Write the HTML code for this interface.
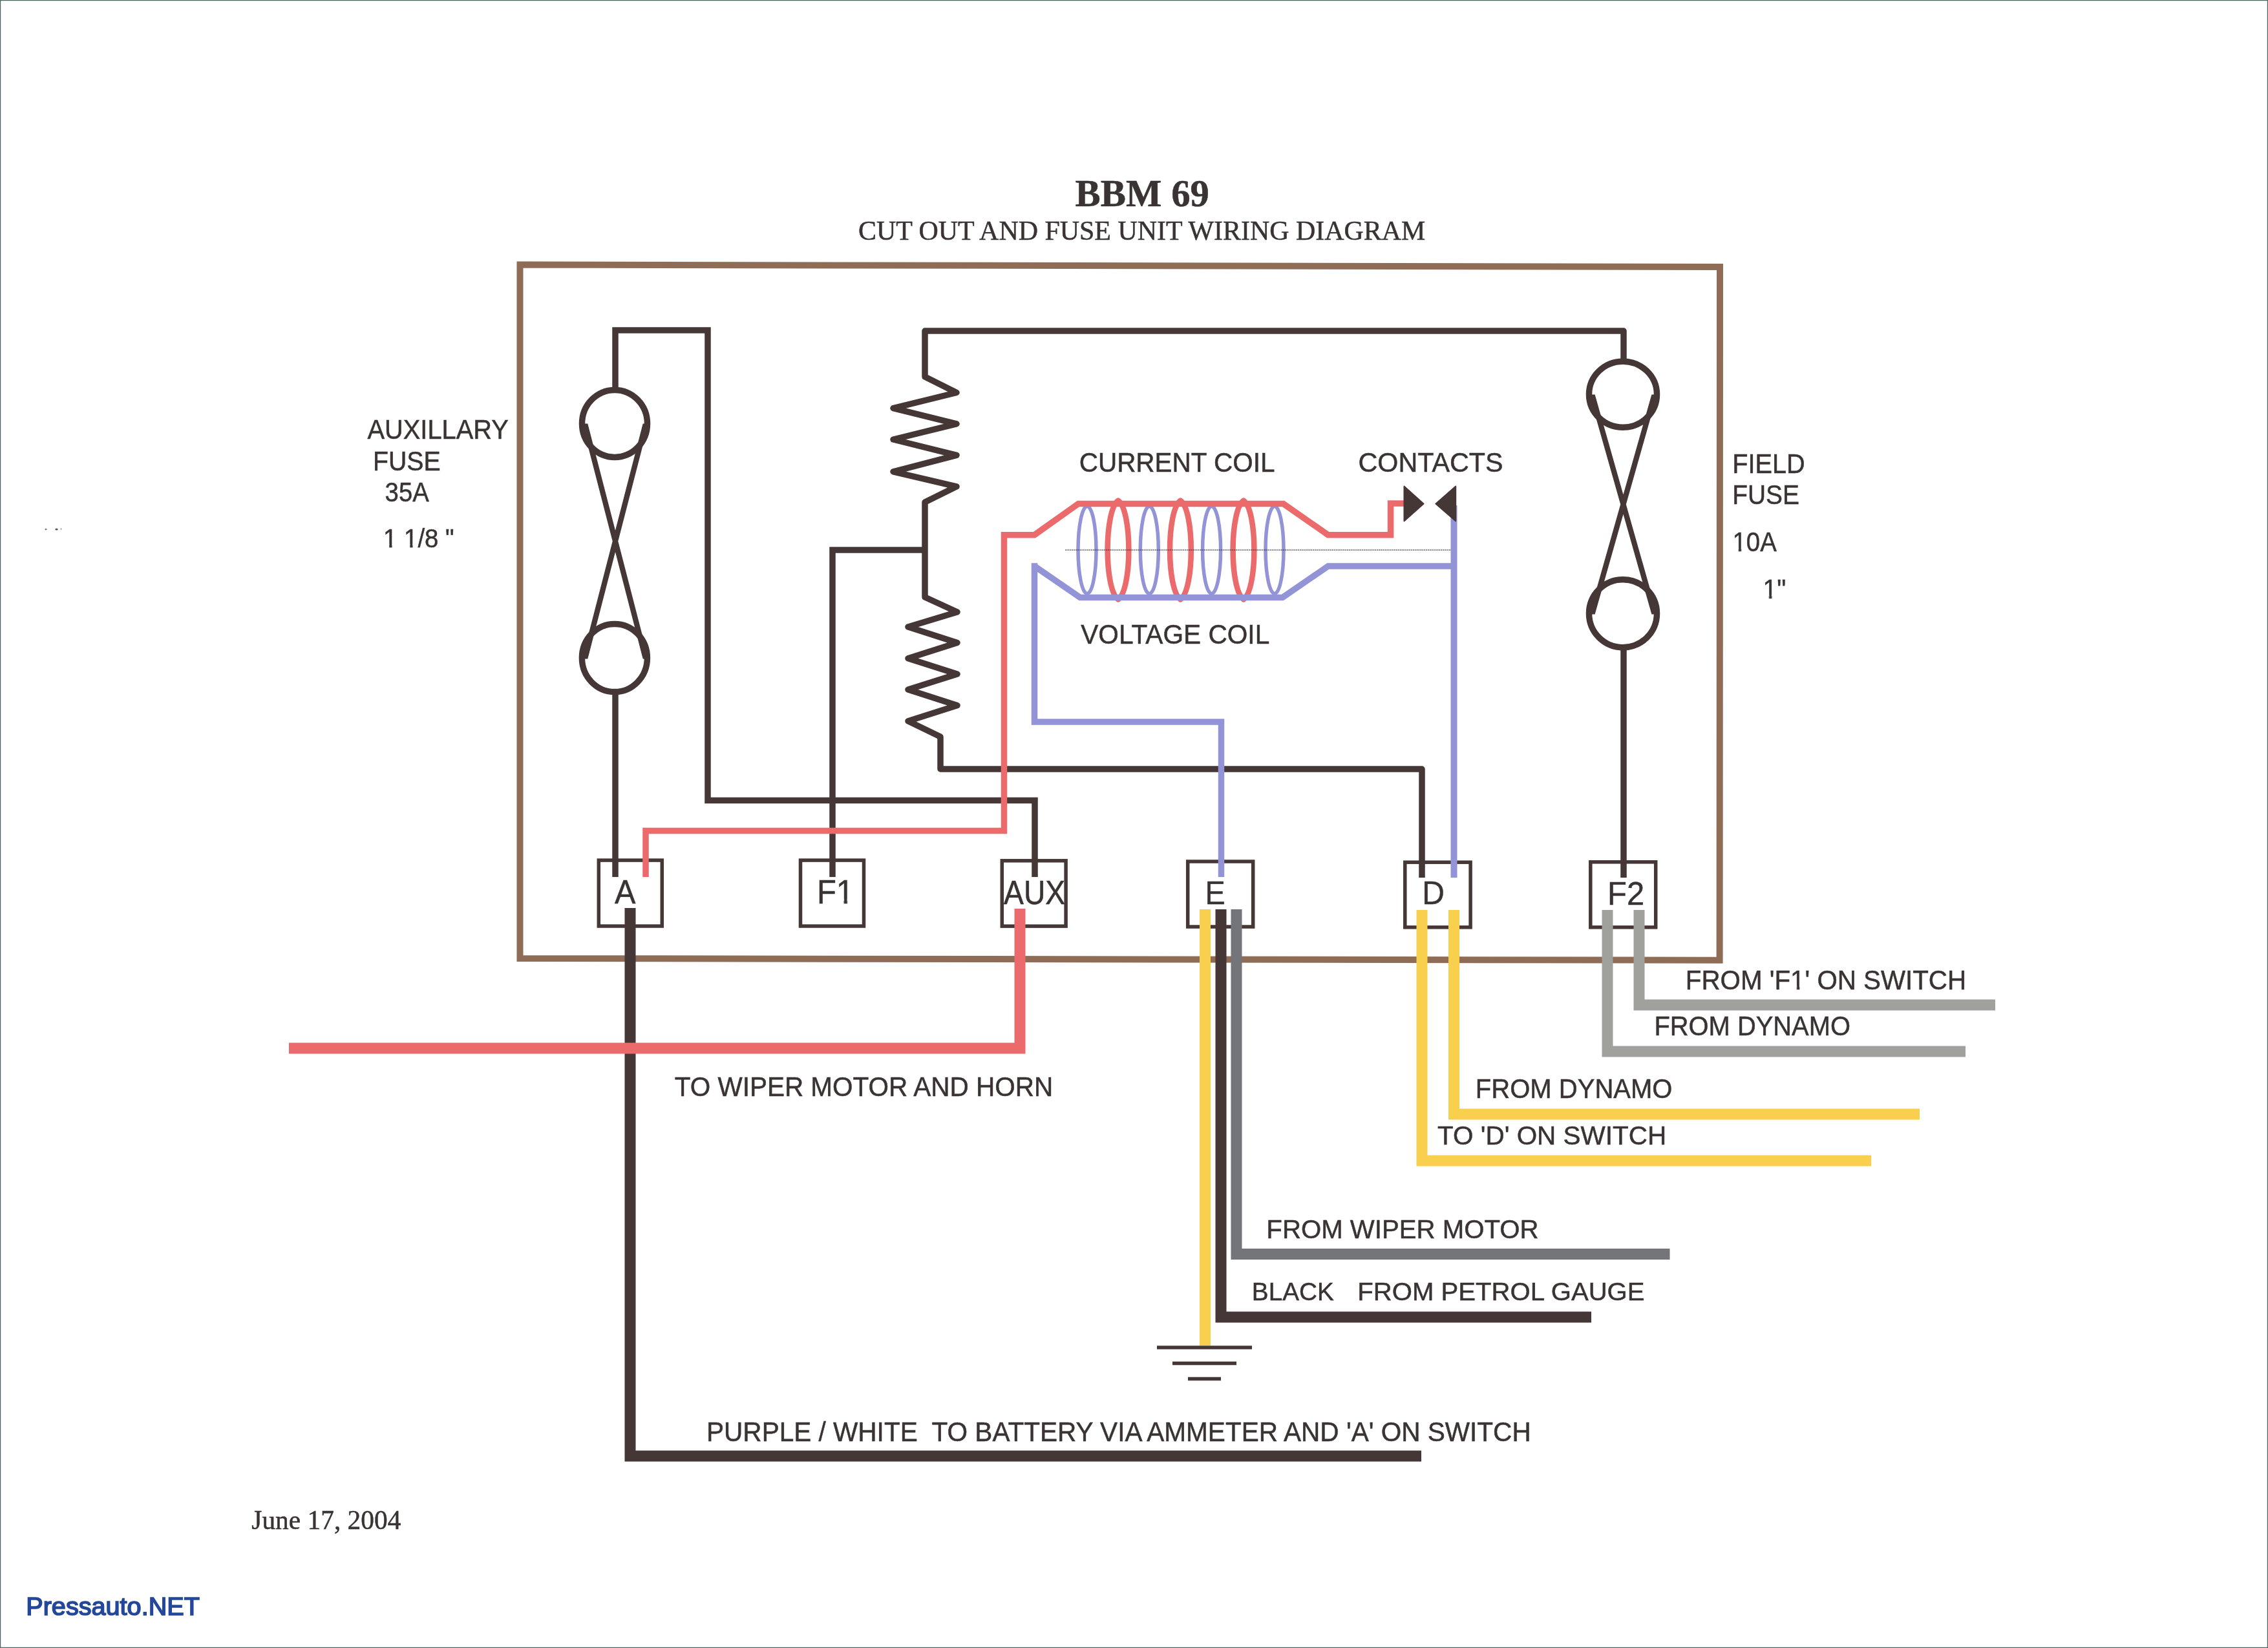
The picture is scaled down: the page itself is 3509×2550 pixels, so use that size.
<!DOCTYPE html>
<html><head><meta charset="utf-8"><title>BBM 69 Cut Out and Fuse Unit Wiring Diagram</title>
<style>html,body{margin:0;padding:0;background:#fff;overflow:hidden}svg{display:block}text{will-change:transform}</style></head>
<body><svg width="3509" height="2550" viewBox="0 0 3509 2550">
<rect width="3509" height="2550" fill="#ffffff"/>
<rect x="0" y="0" width="3509" height="2550" fill="none" stroke="#4a6363" stroke-width="2.4"/>
<ellipse cx="71" cy="819" rx="1.6" ry="1.2" fill="#777"/><ellipse cx="87.5" cy="819" rx="2.2" ry="1.5" fill="#555"/><ellipse cx="94.5" cy="818.5" rx="0.8" ry="1.2" fill="#888"/>
<path d="M804.5,409.5 L2661,413 L2660.6,1485.7 L804.5,1483 Z" fill="none" stroke="#8e6c55" stroke-width="10"/>
<path d="M952,604 V511 H1095 V1238.5 H1601 V1357" fill="none" stroke="#463737" stroke-width="9.5" stroke-linejoin="miter"/>
<path d="M952,1072 V1357" fill="none" stroke="#463737" stroke-width="9.5" stroke-linejoin="miter"/>
<path d="M2512,559 V512 H1431 V583 L1480,607.5 L1382,631.7 L1480,655.9 L1382,680 L1480,704.3 L1382,729.8 L1480,752.8 L1431,777 V924 L1481,947 L1405,970 L1481,994.4 L1405,1018.7 L1481,1043 L1405,1067 L1481,1091.5 L1405,1115.8 L1455,1140 V1190 H2200 V1358" fill="none" stroke="#463737" stroke-width="9.5" stroke-linejoin="round"/>
<path d="M1288,1357 V851 H1431" fill="none" stroke="#463737" stroke-width="9.5" stroke-linejoin="miter"/>
<path d="M2512,1002 V1358" fill="none" stroke="#463737" stroke-width="9.5" stroke-linejoin="miter"/>
<ellipse cx="951" cy="655.4" rx="50.5" ry="52" fill="none" stroke="#463737" stroke-width="9.5"/>
<ellipse cx="950.9" cy="1018" rx="50.5" ry="52.6" fill="none" stroke="#463737" stroke-width="9.5"/>
<path d="M900.70,655.4 L909.30,655.4 L1003.30,1019.5 L994.70,1019.5 Z M994.70,655.4 L1003.30,655.4 L909.30,1019.5 L900.70,1019.5 Z" fill="#463737" fill-rule="nonzero"/>
<ellipse cx="2511" cy="610.2" rx="52.5" ry="51" fill="none" stroke="#463737" stroke-width="9.5"/>
<ellipse cx="2511" cy="949.2" rx="52.5" ry="52.5" fill="none" stroke="#463737" stroke-width="9.5"/>
<path d="M2459.00,610.4 L2467.60,610.4 L2564.00,950.5 L2555.40,950.5 Z M2555.40,610.4 L2564.00,610.4 L2467.60,950.5 L2459.00,950.5 Z" fill="#463737" fill-rule="nonzero"/>
<rect x="926.3" y="1331.1" width="98.0" height="101.90000000000009" fill="none" stroke="#463737" stroke-width="5.5"/>
<rect x="1238.5" y="1331.1" width="98.0" height="101.90000000000009" fill="none" stroke="#463737" stroke-width="5.5"/>
<rect x="1550.3" y="1331.8" width="98.79999999999995" height="101.29999999999995" fill="none" stroke="#463737" stroke-width="5.5"/>
<rect x="1837.7" y="1333" width="101.0" height="101" fill="none" stroke="#463737" stroke-width="5.5"/>
<rect x="2173.8" y="1334.2" width="101.29999999999973" height="100.59999999999991" fill="none" stroke="#463737" stroke-width="5.5"/>
<rect x="2460.8" y="1333.8" width="100.89999999999964" height="101.0" fill="none" stroke="#463737" stroke-width="5.5"/>
<ellipse cx="1682" cy="851" rx="14" ry="67.5" fill="none" stroke="#9393d7" stroke-width="5.5"/>
<ellipse cx="1778.3" cy="851" rx="14" ry="67.5" fill="none" stroke="#9393d7" stroke-width="5.5"/>
<ellipse cx="1874.6" cy="851" rx="14" ry="67.5" fill="none" stroke="#9393d7" stroke-width="5.5"/>
<ellipse cx="1972" cy="851" rx="14" ry="67.5" fill="none" stroke="#9393d7" stroke-width="5.5"/>
<path d="M1730,774.5 C1751.87,789.80 1751.87,912.20 1730,927.5 C1708.13,912.20 1708.13,789.80 1730,774.5 Z" fill="none" stroke="#eb6a6b" stroke-width="8.5" stroke-linejoin="round"/>
<path d="M1826.4,774.5 C1848.27,789.80 1848.27,912.20 1826.4,927.5 C1804.53,912.20 1804.53,789.80 1826.4,774.5 Z" fill="none" stroke="#eb6a6b" stroke-width="8.5" stroke-linejoin="round"/>
<path d="M1924,774.5 C1945.87,789.80 1945.87,912.20 1924,927.5 C1902.13,912.20 1902.13,789.80 1924,774.5 Z" fill="none" stroke="#eb6a6b" stroke-width="8.5" stroke-linejoin="round"/>
<line x1="1648" y1="851" x2="2245" y2="851" stroke="#3c3c4a" stroke-width="1.3" stroke-opacity="0.75" stroke-dasharray="2.5,0.8"/>
<path d="M999,1357 V1285.5 H1553.5 V827.7 H1600.5 L1668.4,779.5 H1985.7 L2054.8,827.7 H2151.6 V779 H2178" fill="none" stroke="#eb6a6b" stroke-width="9.5" stroke-linejoin="miter" stroke-miterlimit="2"/>
<path d="M1889.5,1357 V1117 H1600.5 V871.25 M1600.5,876 L1671,924.5 H1984.4 L2054.8,876 H2249.5" fill="none" stroke="#9393d7" stroke-width="9.5" stroke-linejoin="miter" stroke-miterlimit="2"/>
<path d="M2249.5,782 V1358" fill="none" stroke="#9393d7" stroke-width="10"/>
<path d="M2172.5,752.6 L2202.5,779.4 L2172.5,806.2 Z" fill="#463737" stroke="#463737" stroke-width="2" stroke-linejoin="round"/>
<path d="M2252.2,752.6 L2221.4,779.4 L2252.2,806.2 Z" fill="#463737" stroke="#463737" stroke-width="2" stroke-linejoin="round"/>
<path d="M975,1405 V2253 H2199" fill="none" stroke="#463737" stroke-width="17"/>
<path d="M1578,1406 V1622 H447" fill="none" stroke="#eb6a6b" stroke-width="17"/>
<path d="M1864.5,1407 V2082" fill="none" stroke="#f8d04e" stroke-width="17"/>
<path d="M1889,1407 V2038 H2462" fill="none" stroke="#463737" stroke-width="17"/>
<path d="M1913,1407 V1940.5 H2583.5" fill="none" stroke="#74747b" stroke-width="17"/>
<path d="M2200,1408 V1796 H2895" fill="none" stroke="#f8d04e" stroke-width="17"/>
<path d="M2249.5,1408 V1724 H2970" fill="none" stroke="#f8d04e" stroke-width="17"/>
<path d="M2487,1408 V1627 H3041" fill="none" stroke="#a0a09c" stroke-width="17"/>
<path d="M2536,1408 V1555 H3087" fill="none" stroke="#a0a09c" stroke-width="17"/>
<path d="M1790,2085 H1937 M1814,2109.5 H1913 M1838,2133.5 H1889" stroke="#463737" stroke-width="5.5" fill="none"/>
<text transform="translate(1663.62,319.20) scale(0.9794,0.9810)" x="0" y="0" font-family='"Liberation Serif", serif' font-weight="bold" font-size="60" fill="#3a3333" stroke="#3a3333" stroke-width="0.5" xml:space="preserve">BBM 69</text>
<text transform="translate(1327.95,371.00) scale(1.0486,1.0397)" x="0" y="0" font-family='"Liberation Serif", serif' font-weight="normal" font-size="40" fill="#3a3333" stroke="#3a3333" stroke-width="0.5" xml:space="preserve">CUT OUT AND FUSE UNIT WIRING DIAGRAM</text>
<text transform="translate(568.40,679.00) scale(0.9719,1.0190)" x="0" y="0" font-family='"Liberation Sans", sans-serif' font-weight="normal" font-size="41" fill="#3a3333" stroke="#3a3333" stroke-width="0.5" xml:space="preserve">AUXILLARY</text>
<text transform="translate(576.93,727.50) scale(0.9581,1.0507)" x="0" y="0" font-family='"Liberation Sans", sans-serif' font-weight="normal" font-size="41" fill="#3a3333" stroke="#3a3333" stroke-width="0.5" xml:space="preserve">FUSE</text>
<text transform="translate(595.57,775.60) scale(0.9347,1.0331)" x="0" y="0" font-family='"Liberation Sans", sans-serif' font-weight="normal" font-size="41" fill="#3a3333" stroke="#3a3333" stroke-width="0.5" xml:space="preserve">35A</text>
<text transform="translate(593.05,847.40) scale(0.9366,1.0050)" x="0" y="0" font-family='"Liberation Sans", sans-serif' font-weight="normal" font-size="41" fill="#3a3333" stroke="#3a3333" stroke-width="0.5" xml:space="preserve">1 1/8 "</text>
<g transform="translate(593.05,847.40) scale(0.9366,1.0050)" fill="#ffffff"><rect x="-0.82" y="-5.33" width="10.66" height="9.84"/><rect x="14.39" y="-5.33" width="8.16" height="9.84"/><rect x="33.37" y="-5.33" width="10.66" height="9.84"/><rect x="48.58" y="-5.33" width="8.16" height="9.84"/></g>
<text transform="translate(1669.73,730.20) scale(0.9868,1.0261)" x="0" y="0" font-family='"Liberation Sans", sans-serif' font-weight="normal" font-size="41" fill="#3a3333" stroke="#3a3333" stroke-width="0.5" xml:space="preserve">CURRENT COIL</text>
<text transform="translate(2101.49,730.20) scale(1.0073,1.0155)" x="0" y="0" font-family='"Liberation Sans", sans-serif' font-weight="normal" font-size="41" fill="#3a3333" stroke="#3a3333" stroke-width="0.5" xml:space="preserve">CONTACTS</text>
<text transform="translate(1672.20,995.90) scale(0.9915,1.0401)" x="0" y="0" font-family='"Liberation Sans", sans-serif' font-weight="normal" font-size="41" fill="#3a3333" stroke="#3a3333" stroke-width="0.5" xml:space="preserve">VOLTAGE COIL</text>
<text transform="translate(2680.20,731.90) scale(0.9676,1.0190)" x="0" y="0" font-family='"Liberation Sans", sans-serif' font-weight="normal" font-size="41" fill="#3a3333" stroke="#3a3333" stroke-width="0.5" xml:space="preserve">FIELD</text>
<text transform="translate(2680.26,780.40) scale(0.9476,1.0366)" x="0" y="0" font-family='"Liberation Sans", sans-serif' font-weight="normal" font-size="41" fill="#3a3333" stroke="#3a3333" stroke-width="0.5" xml:space="preserve">FUSE</text>
<text transform="translate(2680.56,853.30) scale(0.9348,1.0331)" x="0" y="0" font-family='"Liberation Sans", sans-serif' font-weight="normal" font-size="41" fill="#3a3333" stroke="#3a3333" stroke-width="0.5" xml:space="preserve">10A</text>
<g transform="translate(2680.56,853.30) scale(0.9348,1.0331)" fill="#ffffff"><rect x="-0.82" y="-5.33" width="10.66" height="9.84"/><rect x="14.39" y="-5.33" width="8.16" height="9.84"/></g>
<text transform="translate(2727.46,926.10) scale(0.9594,1.0190)" x="0" y="0" font-family='"Liberation Sans", sans-serif' font-weight="normal" font-size="41" fill="#3a3333" stroke="#3a3333" stroke-width="0.5" xml:space="preserve">1"</text>
<g transform="translate(2727.46,926.10) scale(0.9594,1.0190)" fill="#ffffff"><rect x="-0.82" y="-5.33" width="10.66" height="9.84"/><rect x="14.39" y="-5.33" width="8.16" height="9.84"/></g>
<text transform="translate(1043.71,1696.00) scale(0.9876,1.0472)" x="0" y="0" font-family='"Liberation Sans", sans-serif' font-weight="normal" font-size="41" fill="#3a3333" stroke="#3a3333" stroke-width="0.5" xml:space="preserve">TO WIPER MOTOR AND HORN</text>
<text transform="translate(2607.85,1531.00) scale(0.9839,1.0190)" x="0" y="0" font-family='"Liberation Sans", sans-serif' font-weight="normal" font-size="41" fill="#3a3333" stroke="#3a3333" stroke-width="0.5" xml:space="preserve">FROM 'F1' ON SWITCH</text>
<g transform="translate(2607.85,1531.00) scale(0.9839,1.0190)" fill="#ffffff"><rect x="164.13" y="-5.33" width="10.66" height="9.84"/><rect x="179.34" y="-5.33" width="8.16" height="9.84"/></g>
<text transform="translate(2559.38,1602.40) scale(0.9731,1.0155)" x="0" y="0" font-family='"Liberation Sans", sans-serif' font-weight="normal" font-size="41" fill="#3a3333" stroke="#3a3333" stroke-width="0.5" xml:space="preserve">FROM DYNAMO</text>
<text transform="translate(2282.87,1699.40) scale(0.9763,1.0155)" x="0" y="0" font-family='"Liberation Sans", sans-serif' font-weight="normal" font-size="41" fill="#3a3333" stroke="#3a3333" stroke-width="0.5" xml:space="preserve">FROM DYNAMO</text>
<text transform="translate(2224.01,1771.30) scale(0.9873,0.9874)" x="0" y="0" font-family='"Liberation Sans", sans-serif' font-weight="normal" font-size="41" fill="#3a3333" stroke="#3a3333" stroke-width="0.5" xml:space="preserve">TO 'D' ON SWITCH</text>
<text transform="translate(1959.36,1915.70) scale(0.9805,0.9839)" x="0" y="0" font-family='"Liberation Sans", sans-serif' font-weight="normal" font-size="41" fill="#3a3333" stroke="#3a3333" stroke-width="0.5" xml:space="preserve">FROM WIPER MOTOR</text>
<text transform="translate(1936.86,2012.10) scale(0.9450,0.9523)" x="0" y="0" font-family='"Liberation Sans", sans-serif' font-weight="normal" font-size="41" fill="#3a3333" stroke="#3a3333" stroke-width="0.5" xml:space="preserve">BLACK</text>
<text transform="translate(2100.26,2012.10) scale(0.9789,0.9523)" x="0" y="0" font-family='"Liberation Sans", sans-serif' font-weight="normal" font-size="41" fill="#3a3333" stroke="#3a3333" stroke-width="0.5" xml:space="preserve">FROM PETROL GAUGE</text>
<text transform="translate(1093.03,2229.70) scale(0.9891,1.0507)" x="0" y="0" font-family='"Liberation Sans", sans-serif' font-weight="normal" font-size="41" fill="#3a3333" stroke="#3a3333" stroke-width="0.5" xml:space="preserve">PURPLE / WHITE  TO BATTERY VIA AMMETER AND 'A' ON SWITCH</text>
<text transform="translate(389.29,2366.40) scale(1.0096,1.0256)" x="0" y="0" font-family='"Liberation Serif", serif' font-weight="normal" font-size="41" fill="#3a3333" stroke="#3a3333" stroke-width="0.5" xml:space="preserve">June 17, 2004</text>
<text transform="translate(40.21,2499.30) scale(1.0434,1.0305)" x="0" y="0" font-family='"Liberation Sans", sans-serif' font-weight="normal" font-size="38" fill="#24479b" stroke="#24479b" stroke-width="1.6" xml:space="preserve">Pressauto.NET</text>
<text transform="translate(950.90,1397.60) scale(0.9727,1.0534)" x="0" y="0" font-family='"Liberation Sans", sans-serif' font-weight="normal" font-size="50" fill="#3a3333" stroke="#3a3333" stroke-width="0.5" xml:space="preserve">A</text>
<text transform="translate(1263.88,1398.00) scale(0.9795,1.0332)" x="0" y="0" font-family='"Liberation Sans", sans-serif' font-weight="normal" font-size="50" fill="#3a3333" stroke="#3a3333" stroke-width="0.5" xml:space="preserve">F1</text>
<g transform="translate(1263.88,1398.00) scale(0.9795,1.0332)" fill="#ffffff"><rect x="29.53" y="-6.50" width="13.10" height="12.00"/><rect x="47.98" y="-6.50" width="10.05" height="12.00"/></g>
<text transform="translate(1553.10,1398.80) scale(0.9245,1.0332)" x="0" y="0" font-family='"Liberation Sans", sans-serif' font-weight="normal" font-size="50" fill="#3a3333" stroke="#3a3333" stroke-width="0.5" xml:space="preserve">AUX</text>
<text transform="translate(1864.46,1398.70) scale(0.9357,1.0130)" x="0" y="0" font-family='"Liberation Sans", sans-serif' font-weight="normal" font-size="50" fill="#3a3333" stroke="#3a3333" stroke-width="0.5" xml:space="preserve">E</text>
<text transform="translate(2200.16,1398.70) scale(0.9600,0.9899)" x="0" y="0" font-family='"Liberation Sans", sans-serif' font-weight="normal" font-size="50" fill="#3a3333" stroke="#3a3333" stroke-width="0.5" xml:space="preserve">D</text>
<text transform="translate(2487.09,1399.80) scale(0.9769,1.0101)" x="0" y="0" font-family='"Liberation Sans", sans-serif' font-weight="normal" font-size="50" fill="#3a3333" stroke="#3a3333" stroke-width="0.5" xml:space="preserve">F2</text>
</svg></body></html>
